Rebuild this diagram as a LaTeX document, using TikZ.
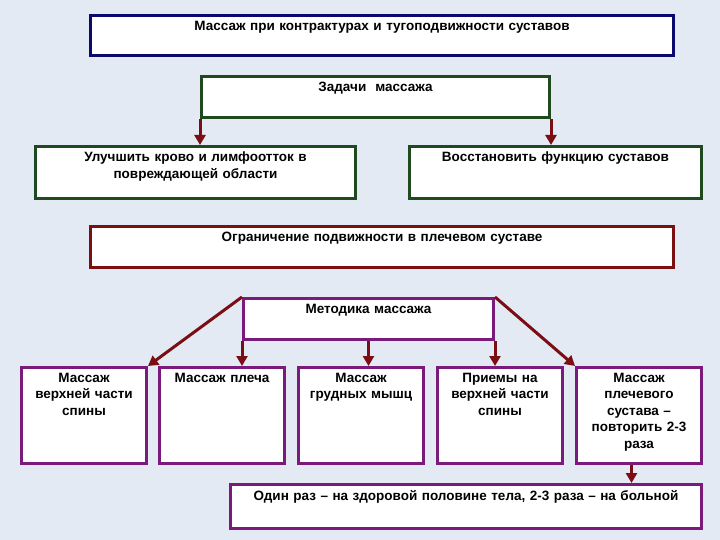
\documentclass[tikz,border=0pt]{standalone}
\usepackage{fontspec}
\setmainfont{Liberation Sans}
\usetikzlibrary{arrows.meta}
\definecolor{bg}{HTML}{E3EAF3}
\definecolor{navy}{HTML}{0A0A6E}
\definecolor{dgreen}{HTML}{1F4A1F}
\definecolor{dred}{HTML}{7A1010}
\definecolor{purp}{HTML}{7A1A7A}
\definecolor{arr}{HTML}{7A0E14}
\tikzset{
  box/.style={draw=#1, line width=3pt, fill=white, anchor=north west, inner sep=0pt},
  txt/.style={anchor=north, align=center, font=\bfseries\fontsize{13.5}{16.5}\selectfont, inner sep=0pt},
  con/.style={draw=arr, line width=3pt, -{Triangle[length=10pt,width=11pt]}}
}
\newcommand{\bx}[7]{% name, color, x1,y1,x2,y2, text
  \node[box=#2, minimum width=#5-#3, minimum height=#6-#4] (#1) at (#3,#4) {};
  \node[txt, text width=#5-#3] (#1t) at ([yshift=-7]#1.north) {#7};}
\begin{document}
\begin{tikzpicture}[x=1pt,y=-1pt]
\fill[bg] (0,0) rectangle (720,540);
\useasboundingbox (0,0) rectangle (720,540);
\bx{title}{navy}{89}{14}{672}{54}{Массаж при контрактурах и тугоподвижности суставов}
\bx{tasks}{dgreen}{200}{75}{548}{116}{Задачи \ массажа}
\bx{left}{dgreen}{34}{145}{354}{197}{Улучшить крово и лимфоотток в\\повреждающей области}
\bx{right}{dgreen}{408}{145}{700}{197}{Восстановить функцию суставов}
\bx{limit}{dred}{89}{225}{672}{266}{Ограничение подвижности в плечевом суставе}
\bx{meth}{purp}{242}{297}{492}{338}{Методика массажа}
\bx{b1}{purp}{20}{366}{145}{462}{Массаж\\верхней части\\спины}
\bx{b2}{purp}{158}{366}{283}{462}{Массаж плеча}
\bx{b3}{purp}{297}{366}{422}{462}{Массаж\\грудных мышц}
\bx{b4}{purp}{436}{366}{561}{462}{Приемы на\\верхней части\\спины}
\bx{b5}{purp}{575}{366}{700}{462}{Массаж\\плечевого\\сустава –\\повторить 2-3\\раза}
\bx{bot}{purp}{229}{483}{700}{527}{Один раз – на здоровой половине тела, 2-3 раза – на больной}
\draw[con] (tasks.south west) -- (tasks.south west |- left.north);
\draw[con] (tasks.south east) -- (tasks.south east |- right.north);
\draw[con] (meth.north west) -- (b1.north east);
\draw[con] (meth.south west) -- (meth.south west |- b2.north);
\draw[con] (meth.south) -- (meth.south |- b3.north);
\draw[con] (meth.south east) -- (meth.south east |- b4.north);
\draw[con] (meth.north east) -- (b5.north west);
\draw[con] ([xshift=-7.5]b5.south) -- ([xshift=-7.5]b5.south |- bot.north);
\end{tikzpicture}
\end{document}
